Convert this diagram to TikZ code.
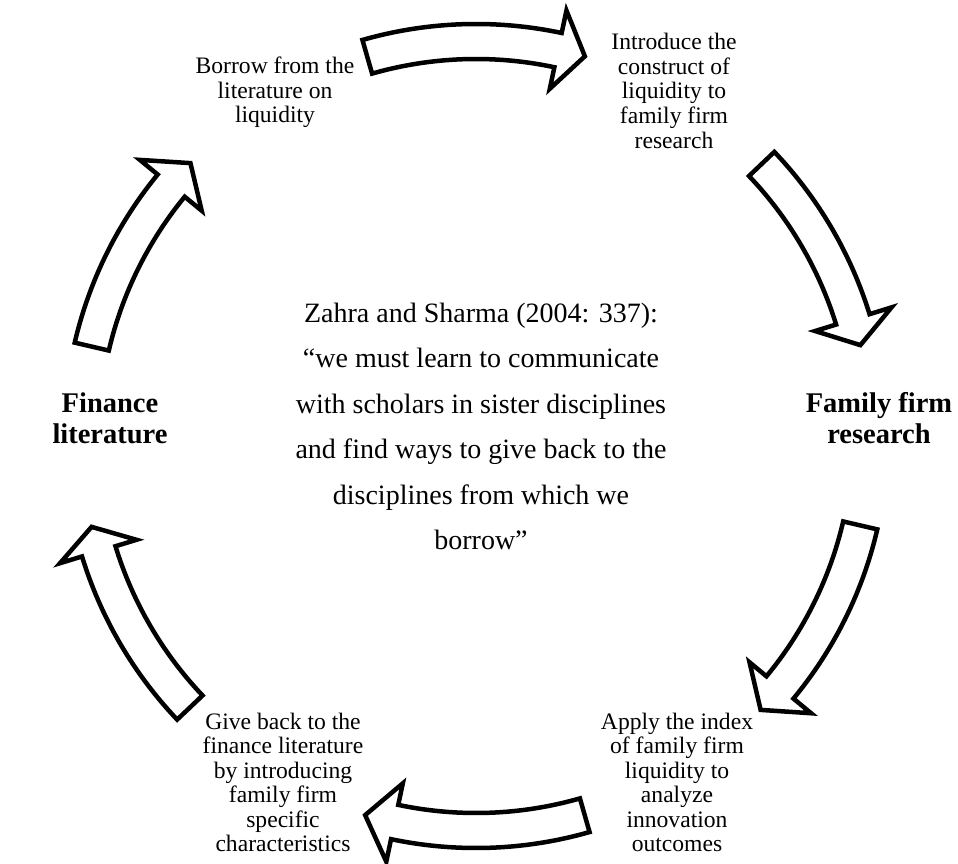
\documentclass[tikz,border=0pt]{standalone}
\usepackage{fontspec}
\setmainfont{Liberation Serif}
\newcommand\circarrow[3]{%
  \draw[blockarrow] (#1:412pt) arc[start angle=#1,end angle=#2,radius=412pt]
    -- (#2:435pt) -- (#3:395pt) -- (#2:355pt) -- (#2:377pt)
    arc[start angle=#2,end angle=#1,radius=377pt] -- cycle;}
\begin{document}
\begin{tikzpicture}[x=1pt,y=1pt,
  blockarrow/.style={draw=black, fill=white, line width=4.5pt, line join=miter},
  small/.style={font=\fontsize{23.6}{24.5}\selectfont, align=center, anchor=base, inner sep=0pt},
  big/.style={font=\fontsize{28.5}{31}\selectfont\bfseries, align=center, anchor=base, inner sep=0pt},
  quotetext/.style={font=\fontsize{28}{45.5}\selectfont, align=center, anchor=base, inner sep=0pt}]
\useasboundingbox (0,0) rectangle (958,-864);
\fill[white] (0,0) rectangle (958,-864);
\begin{scope}[shift={(476,-436)}]
  \circarrow{106}{78}{74}
  \circarrow{43.6}{17.2}{13.3}
  \circarrow{-13.1}{-39.6}{-43.9}
  \circarrow{-74}{-101.9}{-106.3}
  \circarrow{-136.5}{-163}{-166.7}
  \circarrow{166.9}{140.6}{136.3}
\end{scope}
\node[quotetext] (quote) at (481,-549.5) {Zahra and Sharma (2004: 337):\\“we must learn to communicate\\with scholars in sister disciplines\\and find ways to give back to the\\disciplines from which we\\borrow”};
\node[big] (finance) at (110,-443) {Finance\\literature};
\node[big] (family) at (879,-443) {Family firm\\research};
\node[small] (borrow) at (275,-123) {Borrow from the\\literature on\\liquidity};
\node[small] (introduce) at (674,-148) {Introduce the\\construct of\\liquidity to\\family firm\\research};
\node[small] (giveback) at (283,-851.5) {Give back to the\\finance literature\\by introducing\\family firm\\specific\\characteristics};
\node[small] (apply) at (677,-851.5) {Apply the index\\of family firm\\liquidity to\\analyze\\innovation\\outcomes};
\end{tikzpicture}
\end{document}
